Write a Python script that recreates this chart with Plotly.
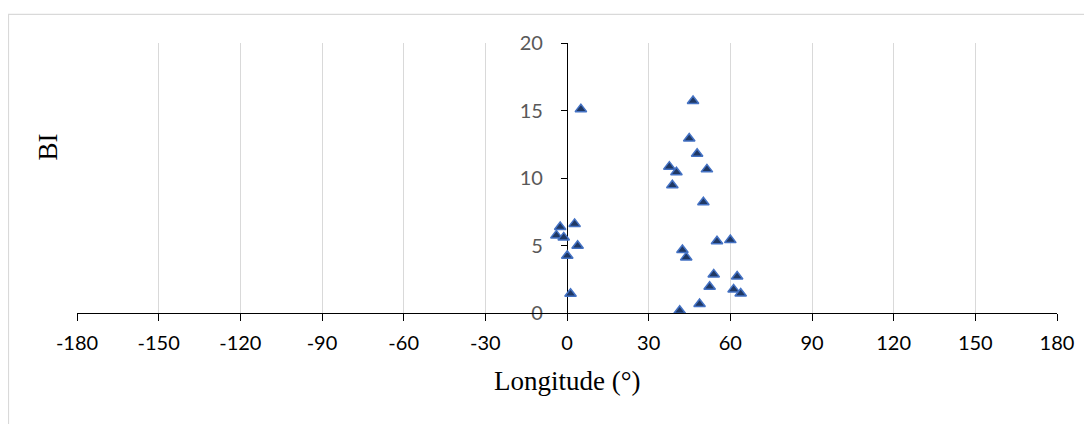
import plotly.graph_objects as go

longitude = [5.1, -2.5, -3.9, -1.2, 2.8, 3.9, 0.1, 1.3,
             46.3, 44.9, 47.8, 37.6, 40.2, 51.4, 38.7, 50.1, 42.4, 43.8,
             55.1, 60.0, 53.9, 52.4, 62.5, 61.2, 63.8, 48.7, 41.4]
bi = [15.1, 6.37, 5.75, 5.6, 6.6, 4.98, 4.24, 1.43,
      15.7, 12.93, 11.8, 10.84, 10.42, 10.64, 9.46, 8.2, 4.67, 4.12,
      5.31, 5.4, 2.86, 1.95, 2.71, 1.75, 1.45, 0.67, 0.17]
x_ticks = [-180, -150, -120, -90, -60, -30, 0, 30, 60, 90, 120, 150, 180]
y_ticks = [0, 5, 10, 15, 20]

# page is offset by the 8px body margin
OFF = 8
W, H = 1092 - OFF, 424 - OFF
ml, mt = 77 - OFF, 43.3 - OFF
mr = 1092 - 1057 
mb = 424 - 313.3
pw, ph = W - ml - mr, H - mt - mb

def px_x(page_x):
    return (page_x - OFF - ml) / pw

def px_y(page_y):
    return (H - mb - (page_y - OFF)) / ph

fig = go.Figure()
fig.add_trace(go.Scatter(
    x=longitude, y=bi, mode="markers",
    marker=dict(symbol="triangle-up", size=10, color="#1F3864",
                line=dict(color="#4472C4", width=1.5)),
    showlegend=False, cliponaxis=False,
))

fig.update_layout(
    width=W, height=H,
    margin=dict(l=ml, r=mr, t=mt, b=mb, pad=0),
    paper_bgcolor="white", plot_bgcolor="white",
    xaxis=dict(
        range=[-180, 180], tickvals=x_ticks, ticktext=[str(v) for v in x_ticks],
        showgrid=True, gridcolor="#D9D9D9", gridwidth=1,
        zeroline=False, showline=True, linecolor="#000000", linewidth=1.3,
        ticks="outside", ticklen=7, tickcolor="#000000", tickwidth=1.3,
        ticklabelstandoff=5,
        tickfont=dict(family="Lato", size=20, color="#000000"),
        fixedrange=True,
    ),
    yaxis=dict(
        range=[0, 20], tickvals=y_ticks, ticktext=[str(v) for v in y_ticks],
        anchor="free", position=0.5,
        showgrid=False, zeroline=False, showline=True,
        linecolor="#000000", linewidth=1.3,
        ticks="outside", ticklen=6, tickcolor="#000000", tickwidth=1.3,
        ticklabelstandoff=14,
        tickfont=dict(family="Lato", size=20, color="#595959"),
        layer="below traces",
    ),
    shapes=[dict(type="rect", xref="paper", yref="paper",
                 x0=px_x(8.5), x1=1.2, y0=-0.6, y1=px_y(14.7),
                 line=dict(color="#D9D9D9", width=1.2), fillcolor="rgba(0,0,0,0)",
                 layer="below")],
    annotations=[
        dict(text="Longitude (°)", xref="paper", yref="paper",
             x=px_x(567), y=px_y(381), xanchor="center", yanchor="middle",
             showarrow=False,
             font=dict(family="Liberation Serif", size=27, color="#000000")),
        dict(text="BI", xref="paper", yref="paper",
             x=px_x(47.7), y=px_y(147), xanchor="center",
             yanchor="middle", textangle=-90, showarrow=False,
             font=dict(family="Liberation Serif", size=27, color="#000000")),
    ],
)

fig.write_html("out.html")
